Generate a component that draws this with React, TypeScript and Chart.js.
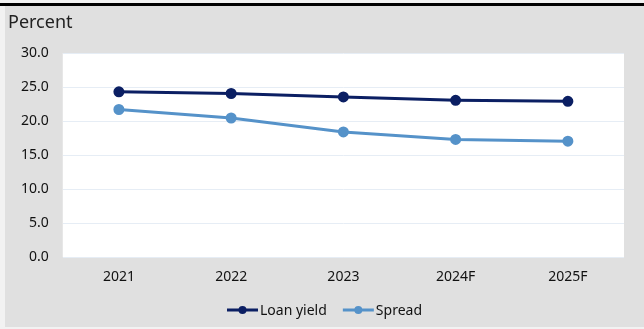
import React, { useEffect, useRef } from "react";
import { Chart, registerables } from "chart.js";

Chart.register(...registerables);

const categories = ["2021", "2022", "2023", "2024F", "2025F"];
const loanYield = [24.3, 24.05, 23.55, 23.05, 22.9];
const spread = [21.7, 20.45, 18.4, 17.3, 17.05];
const seriesNames = ["Loan yield", "Spread"];
const yTitle = "Percent";

const NAVY = "#0b1f63";
const LIGHT = "#5592c9";
const FONT = "'Noto Sans', 'Open Sans', sans-serif";

const panelPlugin = {
  id: "panel",
  beforeDraw(chart: any) {
    const { ctx, chartArea } = chart;
    ctx.save();
    ctx.fillStyle = "#ffffff";
    ctx.fillRect(chartArea.left, chartArea.top, chartArea.right - chartArea.left, chartArea.bottom - chartArea.top);
    ctx.restore();
  },
  afterDraw(chart: any) {
    const { ctx } = chart;
    ctx.save();
    // title
    ctx.font = `18px ${FONT}`;
    ctx.fillStyle = "#222222";
    ctx.textBaseline = "alphabetic";
    ctx.textAlign = "left";
    ctx.fillText(yTitle, 3, 22);
    // legend
    ctx.font = `14px ${FONT}`;
    const lineW = 31;
    const gap = 2;
    const itemGap = 16;
    const ds = chart.data.datasets;
    const widths = ds.map((d: any) => lineW + gap + ctx.measureText(d.label).width);
    const total = widths.reduce((a: number, b: number) => a + b, 0) + itemGap * (ds.length - 1);
    let x = chart.width / 2 - total / 2;
    const y = 304;
    ds.forEach((d: any, i: number) => {
      ctx.strokeStyle = d.borderColor;
      ctx.lineWidth = 3;
      ctx.beginPath();
      ctx.moveTo(x, y);
      ctx.lineTo(x + lineW, y);
      ctx.stroke();
      ctx.fillStyle = d.borderColor;
      ctx.beginPath();
      ctx.arc(x + lineW / 2, y, 4, 0, Math.PI * 2);
      ctx.fill();
      ctx.fillStyle = "#111111";
      ctx.textBaseline = "middle";
      ctx.fillText(d.label, x + lineW + gap, y + 1);
      x += widths[i] + itemGap;
    });
    ctx.restore();
  },
};

export default function App() {
  const ref = useRef<HTMLCanvasElement | null>(null);
  useEffect(() => {
    if (!ref.current) return;
    const chart = new Chart(ref.current, {
      type: "line",
      data: {
        labels: categories,
        datasets: [
          {
            label: seriesNames[0],
            data: loanYield,
            borderColor: NAVY,
            backgroundColor: NAVY,
            borderWidth: 3,
            pointRadius: 4,
            pointHoverRadius: 4,
            tension: 0,
          },
          {
            label: seriesNames[1],
            data: spread,
            borderColor: LIGHT,
            backgroundColor: LIGHT,
            borderWidth: 3,
            pointRadius: 4,
            pointHoverRadius: 4,
            tension: 0,
          },
        ],
      },
      options: {
        animation: false,
        responsive: false,
        maintainAspectRatio: false,
        layout: { padding: { left: 2, right: 20, top: 47, bottom: 31 } },
        plugins: {
          legend: { display: false },
          title: { display: false },
          tooltip: { enabled: false },
        },
        scales: {
          x: {
            offset: true,
            grid: { display: false, drawTicks: false },
            border: { display: false },
            ticks: { color: "#111111", font: { family: FONT, size: 14 }, padding: 11 },
          },
          y: {
            min: 0,
            max: 30,
            grid: { color: "#e6edf5", lineWidth: 1, drawTicks: false },
            border: { display: false },
            ticks: {
              stepSize: 5,
              color: "#111111",
              font: { family: FONT, size: 14 },
              padding: 14,
              callback: (v: any) => Number(v).toFixed(1),
            },
          },
        },
      },
      plugins: [panelPlugin],
    });
    return () => chart.destroy();
  }, []);

  return (
    <div style={{ position: "absolute", left: 0, top: 0, width: 644, height: 329, background: "#f2f2f2" }}>
      <div style={{ position: "absolute", left: 0, top: 3, width: 644, height: 3, background: "#000" }} />
      <div style={{ position: "absolute", left: 5, top: 6, width: 639, height: 321, background: "#e0e0e0" }}>
        <canvas ref={ref} width={639} height={321} style={{ display: "block", width: 639, height: 321 }} />
      </div>
    </div>
  );
}
